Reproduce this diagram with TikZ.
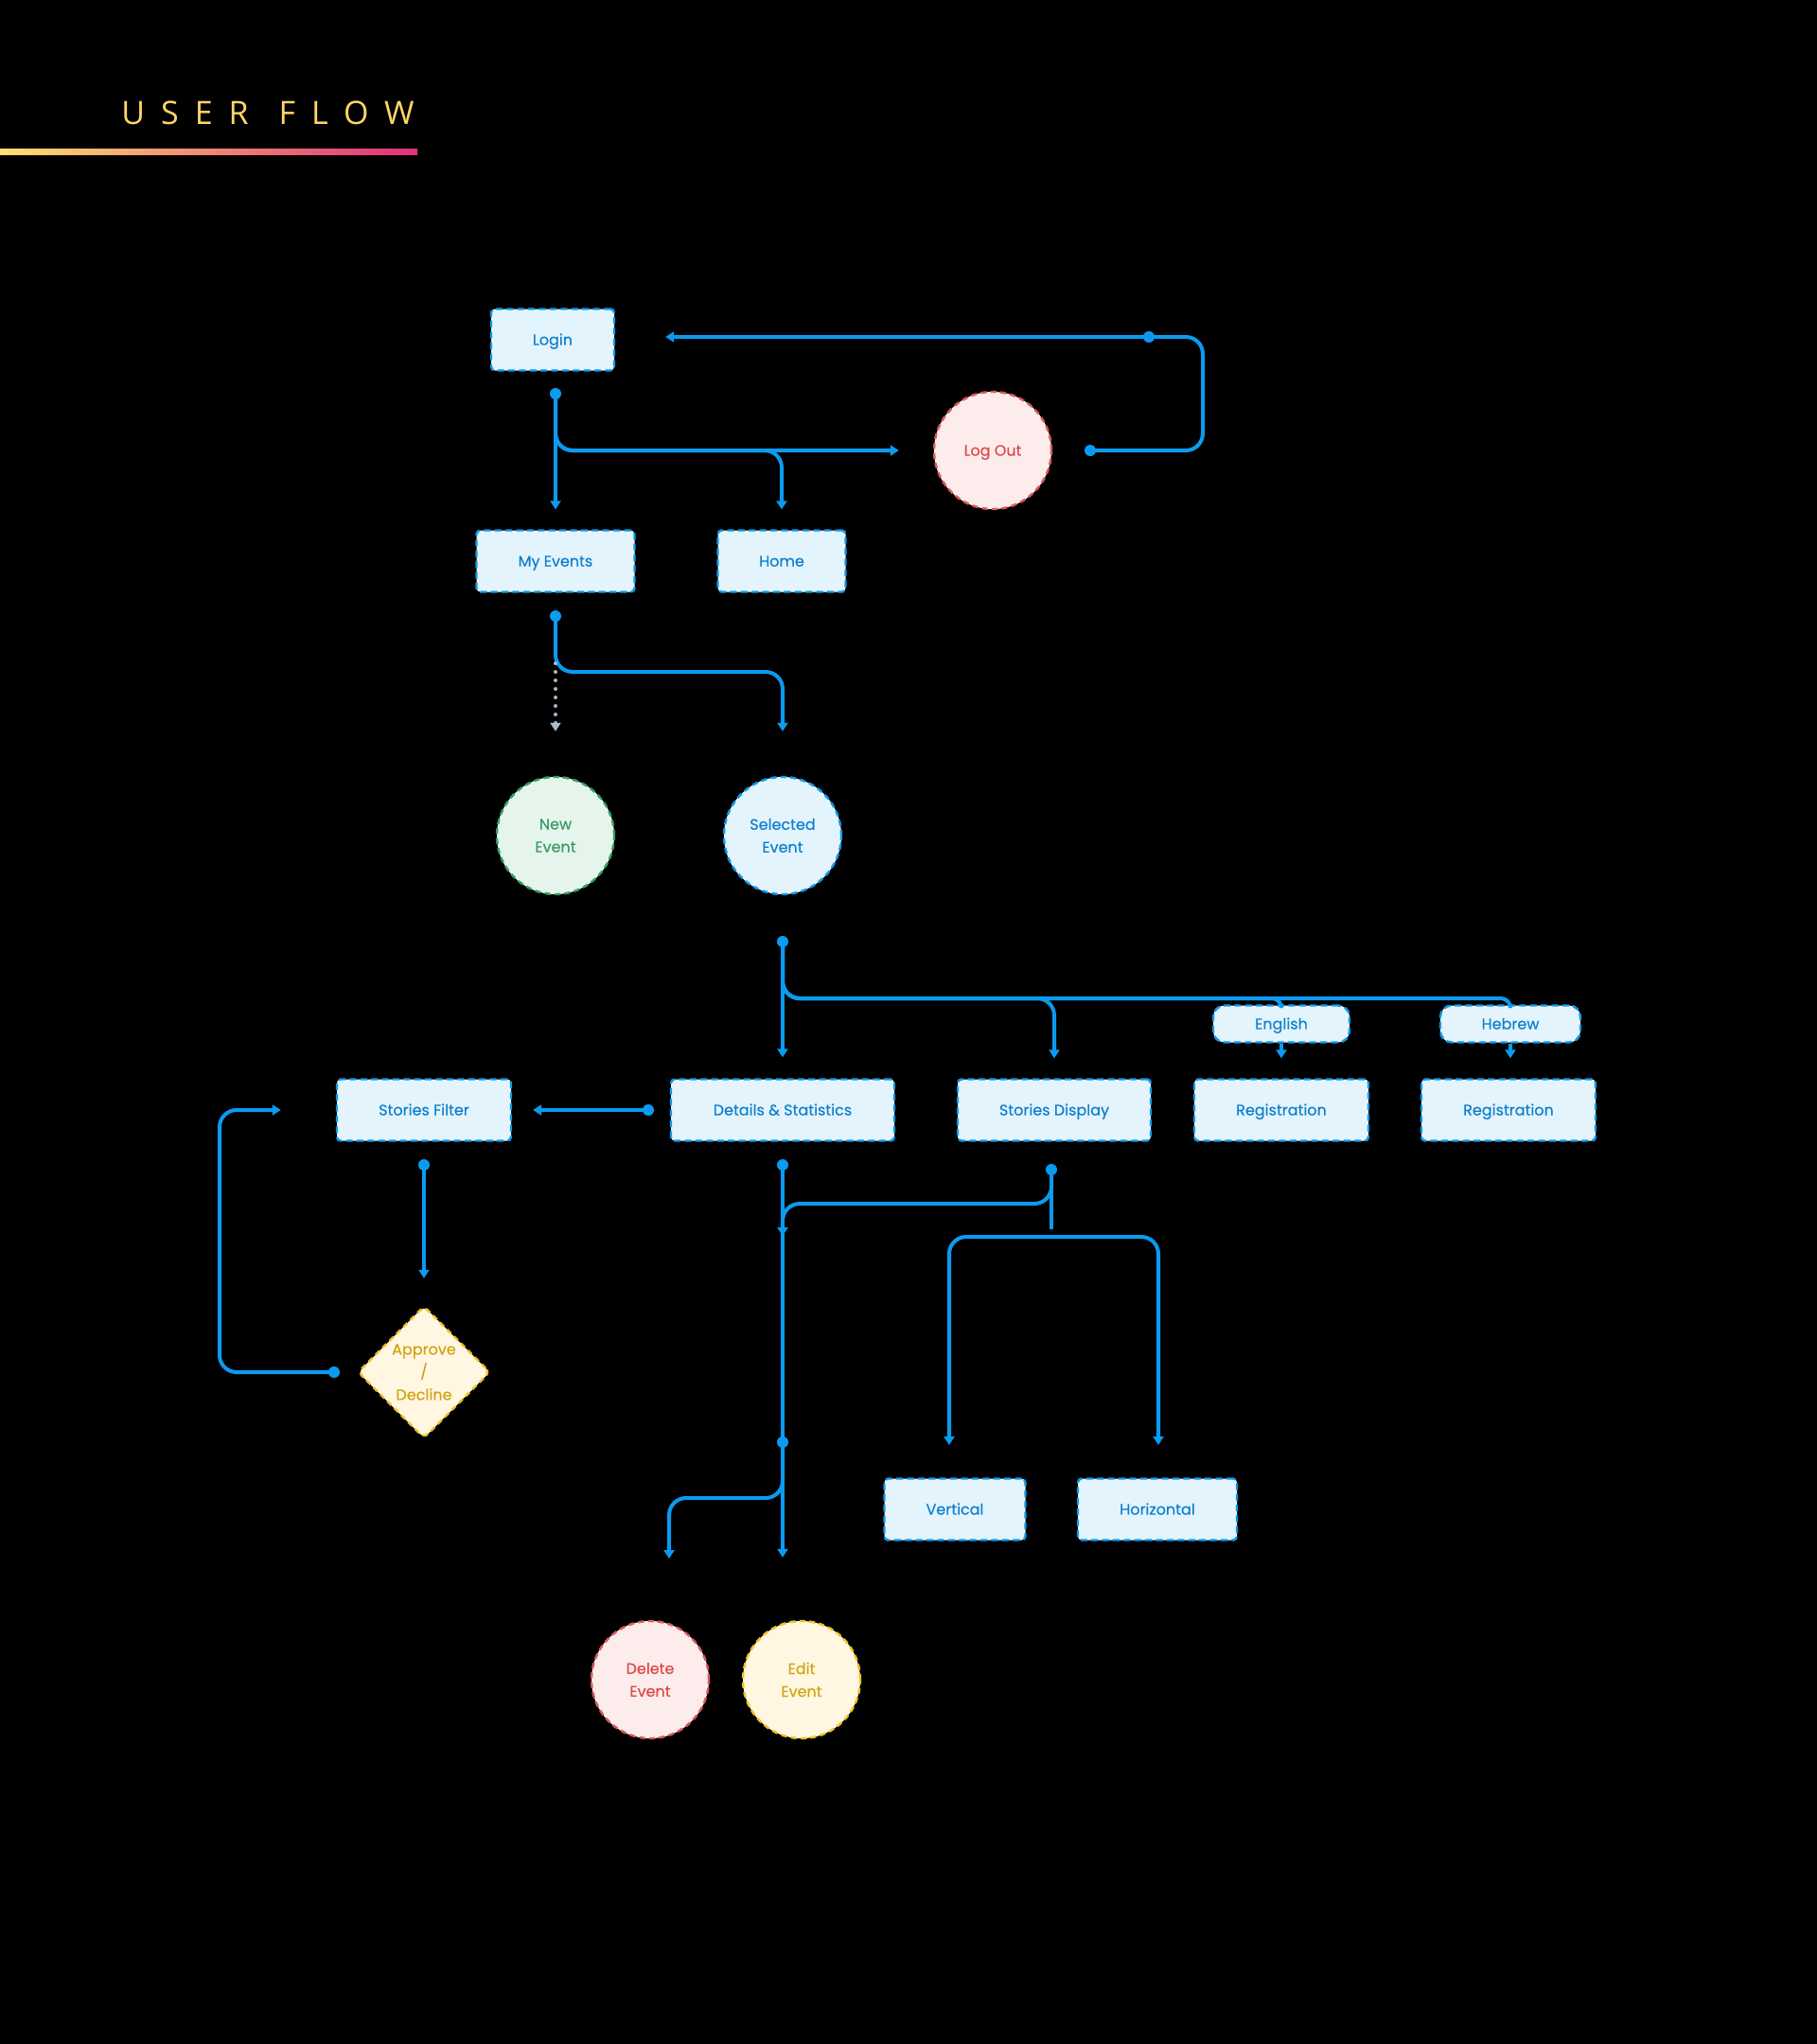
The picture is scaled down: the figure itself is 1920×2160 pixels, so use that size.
\documentclass[tikz,border=0pt]{standalone}
\usepackage{fontspec}
\setmainfont{Poppins}[FakeBold=0.3]
\newfontfamily\titlefont[LetterSpace=50]{Open Sans}
\usetikzlibrary{shapes.geometric, arrows.meta, calc}

\definecolor{flowblue}{HTML}{0A9BF0}
\definecolor{boxfill}{HTML}{E3F4FD}
\definecolor{boxtext}{HTML}{0F80CC}
\definecolor{redline}{HTML}{E05656}
\definecolor{redfill}{HTML}{FDECEC}
\definecolor{redtext}{HTML}{E04848}
\definecolor{greenline}{HTML}{2FA05F}
\definecolor{greenfill}{HTML}{E6F5EC}
\definecolor{greentext}{HTML}{3B9966}
\definecolor{goldline}{HTML}{F3C21C}
\definecolor{goldfill}{HTML}{FFF7E1}
\definecolor{goldtext}{HTML}{D3A315}
\definecolor{dotgray}{HTML}{A9B9CC}
\definecolor{titlegold}{HTML}{FFD668}
\definecolor{gradA}{HTML}{FFE070}
\definecolor{gradB}{HTML}{E1307A}

\tikzset{
  screenbox/.style={draw=flowblue, fill=boxfill, text=boxtext, line width=1.2pt, dash pattern=on 3.5pt off 2.2pt, rounded corners=2pt, minimum height=32.5pt, inner sep=0pt, text height=7pt, text depth=1.4pt, font=\fontsize{8pt}{12pt}\selectfont},
  pill/.style={screenbox, rounded corners=6pt, minimum height=19.5pt},
  stopcircle/.style={circle, draw=redline, fill=redfill, text=redtext, line width=1.2pt, dash pattern=on 3pt off 2.2pt, minimum size=62pt, inner sep=0pt, align=center, font=\fontsize{8pt}{12pt}\selectfont},
  greencircle/.style={stopcircle, draw=greenline, fill=greenfill, text=greentext},
  bluecircle/.style={stopcircle, draw=flowblue, fill=boxfill, text=boxtext},
  goldcircle/.style={stopcircle, draw=goldline, fill=goldfill, text=goldtext},
  junction/.style={circle, fill=flowblue, inner sep=0pt, minimum size=6pt},
  link/.style={draw=flowblue, line width=2pt, rounded corners=9pt},
  arr/.style={-{Triangle[width=5.5pt,length=4.5pt]}},
}

\begin{document}
\begin{tikzpicture}[x=0.5pt, y=-0.5pt]
        \fill[black] (0,0) rectangle (1920,2160);
        \useasboundingbox (0,0) rectangle (1920,2160);

        % Title
        \node[anchor=base west, inner sep=0pt, text=titlegold] (title) at (128,131) {\titlefont\fontsize{17pt}{20pt}\selectfont USER\hspace{3pt} FLOW};
        \shade[left color=gradA, right color=gradB] (0,157) rectangle (441,163);

        % Screens
        \node[screenbox, minimum width=65pt] (login) at (584,359) {Login};
        \node[stopcircle, text height=7pt, text depth=1.4pt] (logout) at (1049,476) {Log Out};
        \node[screenbox, minimum width=83.5pt] (myevents) at (587,593) {My Events};
        \node[screenbox, minimum width=67.5pt] (home) at (826,593) {Home};

        \node[greencircle] (newevent) at (587,883) {New\\Event};
        \node[bluecircle] (selevent) at (827,883) {Selected\\Event};

        \node[pill, minimum width=72pt] (english) at (1354,1082) {English};
        \node[pill, minimum width=74pt] (hebrew) at (1596,1082) {Hebrew};

        \node[screenbox, minimum width=92pt] (filter) at (448,1173) {Stories Filter};
        \node[screenbox, minimum width=118pt] (details) at (827,1173) {Details \& Statistics};
        \node[screenbox, minimum width=102pt] (display) at (1114,1173) {Stories Display};
        \node[screenbox, minimum width=92pt] (regen) at (1354,1173) {Registration};
        \node[screenbox, minimum width=92pt] (reghe) at (1594,1173) {Registration};

        \node[diamond, aspect=1, draw=goldline, fill=goldfill, text=goldtext, line width=1.2pt, dash pattern=on 3pt off 2.2pt, rounded corners=3pt, minimum size=70pt, inner sep=0pt, align=center, font=\fontsize{8pt}{12pt}\selectfont] (approve) at (448,1450) {Approve\\/\\Decline};

        \node[screenbox, minimum width=74.5pt] (vertical) at (1009,1595) {Vertical};
        \node[screenbox, minimum width=84pt] (horizontal) at (1223,1595) {Horizontal};

        \node[stopcircle] (delete) at (687,1775) {Delete\\Event};
        \node[goldcircle] (edit) at (847,1775) {Edit\\Event};

        % Junction dots
        \node[junction] (d_login) at (587,416) {};
        \node[junction] (d_logout) at (1152,476) {};
        \node[junction] (d_back) at (1214,356) {};
        \node[junction] (d_myev) at (587,651) {};
        \node[junction] (d_sel) at (827,995) {};
        \node[junction] (d_det) at (685,1173) {};
        \node[junction] (d_filter) at (448,1231) {};
        \node[junction] (d_appr) at (353,1450) {};
        \node[junction] (d_down) at (827,1231) {};
        \node[junction] (d_edit) at (827,1524) {};
        \node[junction] (d_disp) at (1111,1236) {};

        \coordinate (c_merge) at (827,1306);
        \coordinate (c_delete) at (707,1647);
        \coordinate (c_vert) at (1003,1527);
        \coordinate (c_horz) at (1224,1527);

        % Login / Log Out
        \draw[link, arr, shorten >=26.5pt] (d_logout.center) -- (1271,476) -- (1271,356) -- (login.east |- d_back);
        \draw[link, arr, shorten >=10.5pt] (d_login.center) -- (d_login |- myevents.north);
        \draw[link, arr, shorten >=18pt] (d_login.center) -- (d_login |- logout.west) -- (logout.west);
        \draw[link, arr, shorten >=10.5pt] (d_login.center) -- (d_login |- logout.west) -| (home.north);

        % My Events
        \draw[link, arr, shorten >=23.5pt] (d_myev.center) -- ++(0,59) -| (selevent.north);
        \draw[draw=dotgray, line width=2pt, line cap=round, dash pattern=on 0pt off 4.5pt, -{Triangle[width=5.5pt,length=4.5pt]}, shorten >=23.5pt] (587,701) -- (newevent.north);

        % Selected Event
        \draw[link, arr, shorten >=11pt] (d_sel.center) -- (details.north);
        \draw[link, arr, shorten >=10.5pt] (d_sel.center) -- ++(0,60) -| (display.north);
        \draw[link] (d_sel.center) -- ++(0,60) -- ++(420,0) [rounded corners=5pt] -| (english.north);
        \draw[link] (d_sel.center) -- ++(0,60) -- ++(660,0) [rounded corners=5pt] -| (hebrew.north);
        \draw[link, arr, shorten >=10.5pt] (english.south) -- (regen.north);
        \draw[link, arr, shorten >=10.5pt] (hebrew.south) -- (hebrew.south |- reghe.north);

        % Details & Statistics
        \draw[link, arr, shorten >=11pt] (d_det.center) -- (filter.east);
        \draw[link, arr, shorten >=14pt] (d_filter.center) -- (approve.north);
        \draw[link, arr, shorten >=29pt] (d_appr.center) -- (232,1450) |- (filter.west);
        \draw[link, arr, shorten >=33pt] (d_down.center) -- (d_down |- edit.north);
        \draw[link, arr] (d_edit.center) -- ++(0,59) -| (c_delete);

        % Stories Display
        \draw[link, arr] (d_disp.center) -- ++(0,36) -| (c_merge);
        \draw[link] (d_disp.center) -- ++(0,63);
        \draw[link, {Triangle[width=5.5pt,length=4.5pt]}-{Triangle[width=5.5pt,length=4.5pt]}] (c_vert) |- (1111,1307) -| (c_horz);
    \end{tikzpicture}
\end{document}
